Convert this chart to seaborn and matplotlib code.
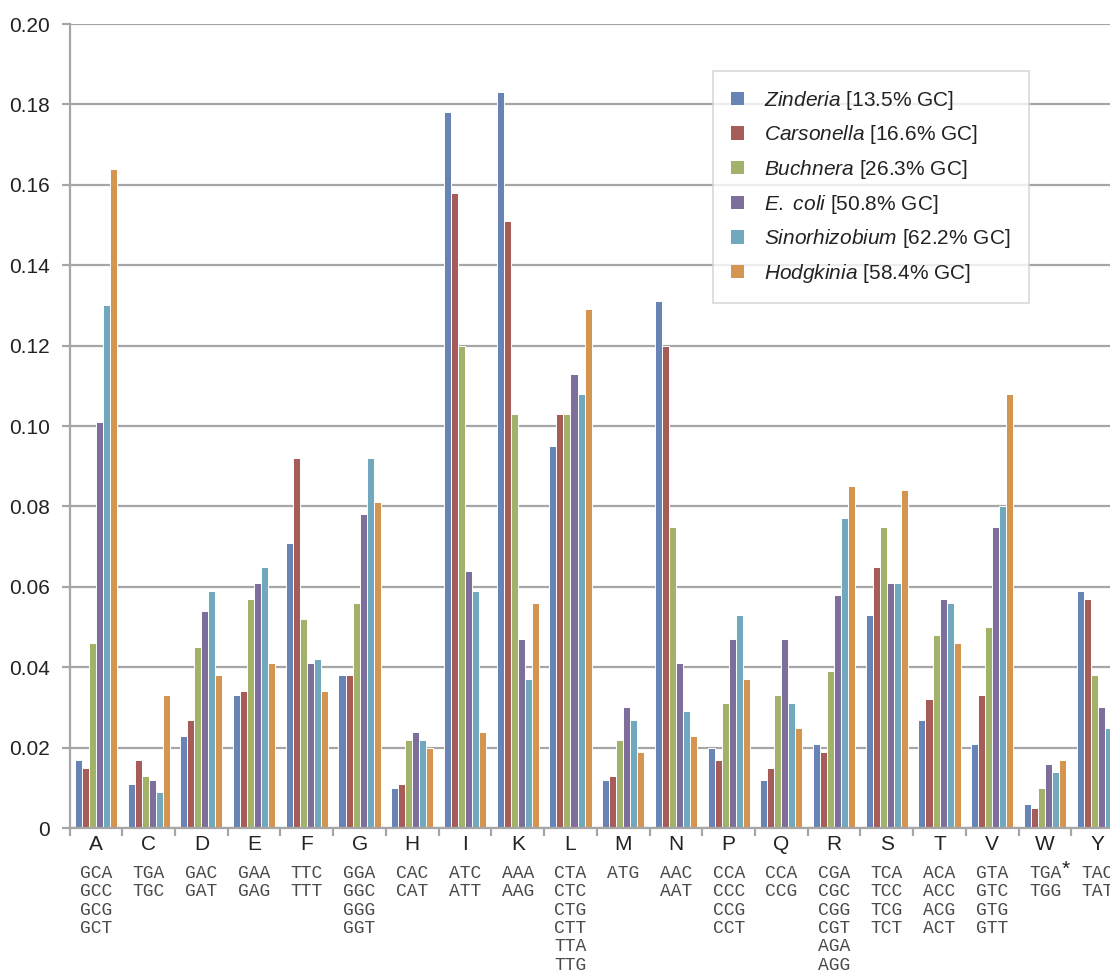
import matplotlib
matplotlib.use('Agg')
import matplotlib.pyplot as plt
import matplotlib.transforms as mtransforms
from matplotlib.patches import Patch
import pandas as pd
import seaborn as sns

# Amino acids and their codons
amino_acids = ['A', 'C', 'D', 'E', 'F', 'G', 'H', 'I', 'K', 'L',
               'M', 'N', 'P', 'Q', 'R', 'S', 'T', 'V', 'W', 'Y']
codons = [
    ['GCA', 'GCC', 'GCG', 'GCT'], ['TGA', 'TGC'], ['GAC', 'GAT'], ['GAA', 'GAG'],
    ['TTC', 'TTT'], ['GGA', 'GGC', 'GGG', 'GGT'], ['CAC', 'CAT'], ['ATC', 'ATT'],
    ['AAA', 'AAG'], ['CTA', 'CTC', 'CTG', 'CTT', 'TTA', 'TTG'], ['ATG'], ['AAC', 'AAT'],
    ['CCA', 'CCC', 'CCG', 'CCT'], ['CCA', 'CCG'],
    ['CGA', 'CGC', 'CGG', 'CGT', 'AGA', 'AGG'], ['TCA', 'TCC', 'TCG', 'TCT'],
    ['ACA', 'ACC', 'ACG', 'ACT'], ['GTA', 'GTC', 'GTG', 'GTT'], ['TGA', 'TGG'], ['TAC', 'TAT'],
]

species = ['Zinderia', 'Carsonella', 'Buchnera', 'E. coli', 'Sinorhizobium', 'Hodgkinia']
gc_content = ['13.5', '16.6', '26.3', '50.8', '62.2', '58.4']

zinderia = [0.017, 0.011, 0.023, 0.033, 0.071, 0.038, 0.010, 0.178, 0.183, 0.095,
            0.012, 0.131, 0.020, 0.012, 0.021, 0.053, 0.027, 0.021, 0.006, 0.059]
carsonella = [0.015, 0.017, 0.027, 0.034, 0.092, 0.038, 0.011, 0.158, 0.151, 0.103,
              0.013, 0.120, 0.017, 0.015, 0.019, 0.065, 0.032, 0.033, 0.005, 0.057]
buchnera = [0.046, 0.013, 0.045, 0.057, 0.052, 0.056, 0.022, 0.120, 0.103, 0.103,
            0.022, 0.075, 0.031, 0.033, 0.039, 0.075, 0.048, 0.050, 0.010, 0.038]
ecoli = [0.101, 0.012, 0.054, 0.061, 0.041, 0.078, 0.024, 0.064, 0.047, 0.113,
         0.030, 0.041, 0.047, 0.047, 0.058, 0.061, 0.057, 0.075, 0.016, 0.030]
sinorhizobium = [0.130, 0.009, 0.059, 0.065, 0.042, 0.092, 0.022, 0.059, 0.037, 0.108,
                 0.027, 0.029, 0.053, 0.031, 0.077, 0.061, 0.056, 0.080, 0.014, 0.025]
hodgkinia = [0.164, 0.033, 0.038, 0.041, 0.034, 0.081, 0.020, 0.024, 0.056, 0.129,
             0.019, 0.023, 0.037, 0.025, 0.085, 0.084, 0.046, 0.108, 0.017, 0.022]

colors = ['#6883B5', '#A65C58', '#A2B26A', '#7E6E9C', '#70A8BE', '#D3954F']

y_ticks = [0, 0.02, 0.04, 0.06, 0.08, 0.10, 0.12, 0.14, 0.16, 0.18, 0.20]
y_tick_labels = ['0', '0.02', '0.04', '0.06', '0.08', '0.10', '0.12', '0.14', '0.16', '0.18', '0.20']

series = [zinderia, carsonella, buchnera, ecoli, sinorhizobium, hodgkinia]
rows = []
for sp, vals in zip(species, series):
    for aa, v in zip(amino_acids, vals):
        rows.append({'aa': aa, 'species': sp, 'freq': v})
df = pd.DataFrame(rows)

sns.set_style('white')
plt.rcParams['font.family'] = ['Liberation Sans', 'DejaVu Sans']
plt.rcParams['mathtext.fontset'] = 'custom'
plt.rcParams['mathtext.it'] = 'Liberation Sans:italic'
plt.rcParams['mathtext.rm'] = 'Liberation Sans'

fig = plt.figure(figsize=(11.1, 9.72), dpi=100)
ax = fig.add_axes([0.0627, 0.1481, 0.95, 0.8272])

sns.barplot(data=df, x='aa', y='freq', hue='species', order=amino_acids,
            hue_order=species, palette=colors, width=0.8, saturation=1,
            edgecolor='white', linewidth=0.7, legend=False, ax=ax)

ax.set_xlim(-0.5, len(amino_acids) - 0.5)
ax.set_ylim(0, 0.2)
ax.set_yticks(y_ticks)
ax.set_yticklabels(y_tick_labels, fontsize=15, color='#222222')
ax.yaxis.grid(True, color='#A6A6A6', linewidth=1.6)
ax.set_axisbelow(True)
ax.set_xlabel('')
ax.set_ylabel('')

for s in ['top', 'right']:
    ax.spines[s].set_visible(False)
for s in ['left', 'bottom']:
    ax.spines[s].set_color('#A6A6A6')
    ax.spines[s].set_linewidth(1.6)

ax.tick_params(axis='y', length=6, width=1.6, color='#A6A6A6', pad=8, left=True)
# x ticks sit between groups
ax.set_xticks([i - 0.5 for i in range(len(amino_acids) + 1)])
ax.set_xticklabels([])
ax.tick_params(axis='x', length=6, width=1.6, color='#A6A6A6', bottom=True)

# Amino acid letters and codon lists under the axis
trans = mtransforms.blended_transform_factory(ax.transData, ax.transAxes)
for i, aa in enumerate(amino_acids):
    ax.text(i, -0.021, aa, transform=trans, ha='center', va='center',
            fontsize=15, color='#222222')
    ax.text(i, -0.0462, '\n'.join(codons[i]), transform=trans, ha='center', va='top',
            fontsize=13, family='Liberation Mono', color='#4A4A4A', linespacing=1.1)

# asterisk on the W stop codon
w = amino_acids.index('W')
ax.annotate('*', xy=(w, -0.0462), xycoords=trans, xytext=(12, 4), textcoords='offset points',
            ha='left', va='top', fontsize=15, color='#222222', annotation_clip=False)

handles = [Patch(facecolor=c, edgecolor='none') for c in colors]
labels = []
for sp, gc in zip(species, gc_content):
    name = sp.replace(' ', r'\ ')
    labels.append(r'$\it{' + name + '}$' + f' [{gc}% GC]')

leg = ax.legend(handles, labels, loc='upper left', bbox_to_anchor=(0.6105, 0.9415),
                fontsize=15, frameon=True, fancybox=False, handlelength=0.6,
                handleheight=0.6, handletextpad=1.0, labelspacing=0.56,
                borderpad=0.85, borderaxespad=0)
leg.get_frame().set_edgecolor('#D0D0D0')
leg.get_frame().set_linewidth(1.2)
for t in leg.get_texts():
    t.set_color('#222222')

fig.savefig('out.png', dpi=100)
